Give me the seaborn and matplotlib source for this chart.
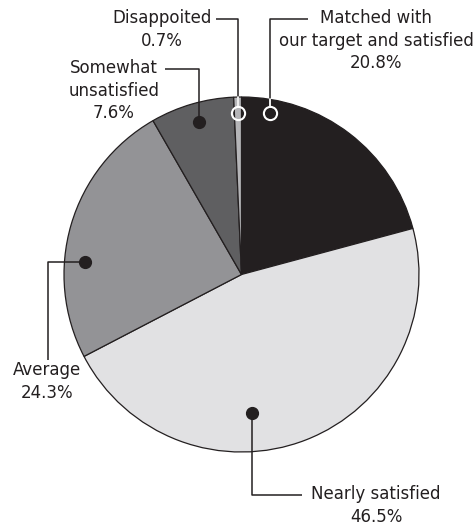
import numpy as np
import seaborn as sns
import matplotlib.pyplot as plt

# satisfaction survey shares (%), clockwise from 12 o'clock
labels = ["Matched with\nour target and satisfied", "Nearly satisfied", "Average",
          "Somewhat\nunsatisfied", "Disappoited"]
shares = [20.8, 46.5, 24.3, 7.6, 0.7]
colors = ["#231f20", "#e1e1e3", "#939396", "#5f5f61", "#b5b5b8"]

sns.set_theme(style="white")
plt.rcParams['font.family'] = ['DejaVu Sans']
INK = "#231f20"

fig = plt.figure(figsize=(4.77, 5.27), dpi=100)
ax = fig.add_axes([0, 0, 1, 1])

cx, cy, R = 241.5, 274.5, 177.5
# y axis is flipped below (pixel coords), so -90 / counterclock reads as
# 12 o'clock / clockwise on screen
wedges, _ = ax.pie(shares, colors=colors, startangle=-90, counterclock=True,
                   center=(cx, cy), radius=R, frame=True,
                   wedgeprops=dict(edgecolor=INK, linewidth=0.9))
ax.set_xlim(0, 477)
ax.set_ylim(527, 0)
ax.set_aspect("equal")
ax.axis("off")

# label idx, leader path (marker first), text anchor (top), hollow marker
callouts = [
    (0, [(270, 113), (270, 19), (308, 19)], (376, 9), True),
    (1, [(252, 413), (252, 495), (302, 495)], (376, 485), False),
    (2, [(85, 262), (48, 262), (48, 360)], (47, 361), False),
    (3, [(199, 122), (199, 69), (165, 69)], (114, 59), False),
    (4, [(238.5, 113), (238.5, 19), (216, 19)], (162, 9), True),
]

for idx, pts, txy, hollow in callouts:
    mx, my = pts[0]
    if hollow:
        # leader starts at the ring, white while over the pie
        pts = [(mx, my - 6.5)] + pts[1:]
        edge_y = cy - np.sqrt(R**2 - (mx - cx) ** 2)
        ax.plot([mx, mx], [my - 6.5, edge_y], color="white", lw=1.3, zorder=6)
        ax.plot(mx, my, "o", ms=9.5, mfc="none", mec="white", mew=1.5, zorder=7)
    else:
        ax.plot(mx, my, "o", ms=8.5, mfc=INK, mec=INK, zorder=7)
    xs, ys = zip(*pts)
    ax.plot(xs, ys, color=INK, lw=1.1, zorder=5, solid_capstyle="butt")
    ax.text(txy[0], txy[1], f"{labels[idx]}\n{shares[idx]}%", ha="center", va="top",
            fontsize=12, color=INK, linespacing=1.33)

fig.savefig("out.png", dpi=100)
